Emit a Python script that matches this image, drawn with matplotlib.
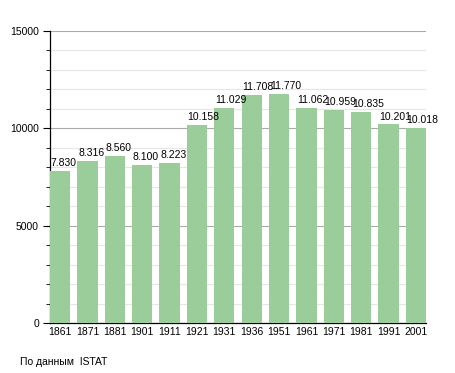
import matplotlib
matplotlib.use("Agg")
import matplotlib.pyplot as plt
from matplotlib.ticker import MultipleLocator

plt.rcParams["font.family"] = ["Liberation Sans", "DejaVu Sans"]

years = ["1861", "1871", "1881", "1901", "1911", "1921", "1931", "1936", "1951", "1961", "1971", "1981", "1991", "2001"]
population = [7830, 8316, 8560, 8100, 8223, 10158, 11029, 11708, 11770, 11062, 10959, 10835, 10201, 10018]
value_labels = ["7.830", "8.316", "8.560", "8.100", "8.223", "10.158", "11.029", "11.708", "11.770", "11.062", "10.959", "10.835", "10.201", "10.018"]

BAR_W = 0.74
FS = 7.5

fig = plt.figure(figsize=(4.55, 3.73), dpi=100)
ax = fig.add_axes([50/455, 1-323/373, 376/455, 292/373])

x = list(range(len(years)))
ax.bar(x, population, width=BAR_W, color="#9acd9a", zorder=3)
for xi, v, lab in zip(x, population, value_labels):
    ax.text(xi - BAR_W/2 + 0.03, v + 250, lab, ha="left", va="baseline", fontsize=FS, zorder=4)

ax.set_xlim(-0.37, 13.37)
ax.set_ylim(0, 15000)
ax.set_xticks(x)
ax.set_xticklabels(years, fontsize=FS)
ax.tick_params(axis="x", length=0, pad=3)
ax.yaxis.set_major_locator(MultipleLocator(5000))
ax.yaxis.set_minor_locator(MultipleLocator(1000))
ax.tick_params(axis="y", which="major", length=5, labelsize=FS, pad=3)
ax.tick_params(axis="y", which="minor", length=3)
ax.grid(axis="y", which="minor", color="#e6e6e6", linewidth=0.8, zorder=0)
ax.grid(axis="y", which="major", color="#aaaaaa", linewidth=0.8, zorder=1)
for s in ["top", "right"]:
    ax.spines[s].set_visible(False)
ax.spines["left"].set_linewidth(0.9)
ax.spines["bottom"].set_linewidth(0.9)

fig.text(20/455, 1-362/373, "По данным  ISTAT", fontsize=FS, va="center", ha="left")

fig.savefig("out.png", dpi=100)
